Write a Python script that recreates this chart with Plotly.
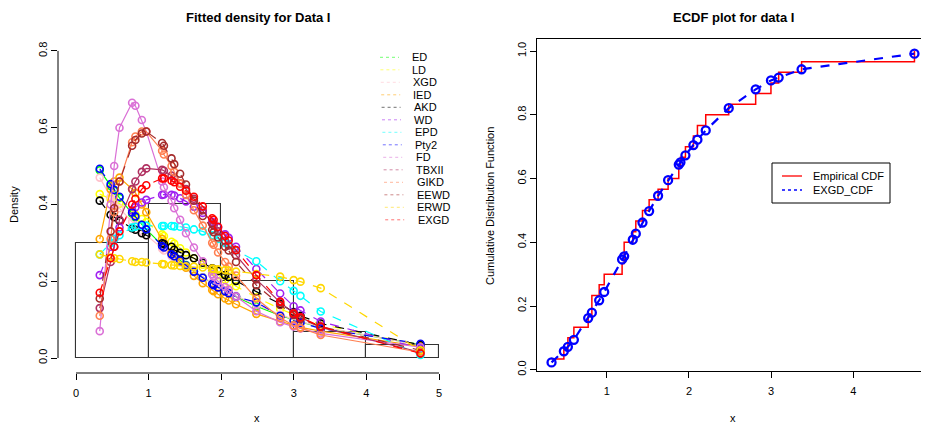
import numpy as np
import plotly.graph_objects as go

W, H = 929, 429
OFFX, OFFY = 8, 8  # the page body adds an 8px margin around the figure

# observations (Data I), ties included
data_x = [0.327, 0.477, 0.526, 0.599, 0.773, 0.818, 0.818, 0.907, 0.968,
          1.186, 1.211, 1.211, 1.316, 1.353, 1.434, 1.515, 1.624, 1.746,
          1.876, 1.896, 1.957, 2.054, 2.103, 2.204, 2.484, 2.812, 2.998,
          3.092, 3.371, 4.745]

# distinct sorted points where the fitted densities / cdf are evaluated
pts = [0.327, 0.477, 0.526, 0.599, 0.773, 0.818, 0.907, 0.968, 1.186, 1.211,
       1.316, 1.353, 1.434, 1.515, 1.624, 1.746, 1.876, 1.896, 1.957, 2.054,
       2.103, 2.204, 2.484, 2.812, 2.998, 3.092, 3.371, 4.745]

ED = [0.489, 0.448, 0.436, 0.417, 0.376, 0.366, 0.347, 0.335, 0.294, 0.290,
      0.272, 0.266, 0.254, 0.242, 0.226, 0.210, 0.195, 0.192, 0.185, 0.175,
      0.170, 0.160, 0.135, 0.111, 0.100, 0.094, 0.080, 0.035]
LD = [0.427, 0.415, 0.410, 0.402, 0.380, 0.374, 0.362, 0.354, 0.322, 0.318,
      0.303, 0.298, 0.286, 0.275, 0.260, 0.243, 0.226, 0.224, 0.216, 0.204,
      0.198, 0.187, 0.158, 0.128, 0.113, 0.106, 0.088, 0.033]
XGD = [0.470, 0.420, 0.410, 0.390, 0.355, 0.345, 0.330, 0.320, 0.285, 0.280,
       0.265, 0.260, 0.250, 0.240, 0.225, 0.210, 0.196, 0.193, 0.187, 0.177,
       0.172, 0.162, 0.138, 0.113, 0.100, 0.095, 0.081, 0.034]
IED = [0.310, 0.440, 0.460, 0.470, 0.440, 0.430, 0.400, 0.380, 0.310, 0.300,
       0.275, 0.265, 0.250, 0.235, 0.214, 0.195, 0.177, 0.174, 0.166, 0.155,
       0.150, 0.140, 0.115, 0.095, 0.085, 0.080, 0.070, 0.030]
AKD = [0.410, 0.373, 0.367, 0.358, 0.338, 0.334, 0.325, 0.320, 0.299, 0.297,
       0.290, 0.282, 0.274, 0.268, 0.260, 0.248, 0.234, 0.232, 0.227, 0.216,
       0.211, 0.201, 0.173, 0.141, 0.120, 0.110, 0.090, 0.034]
WD = [0.216, 0.290, 0.310, 0.340, 0.385, 0.393, 0.405, 0.412, 0.425, 0.426,
      0.425, 0.423, 0.416, 0.408, 0.394, 0.378, 0.355, 0.351, 0.340, 0.322,
      0.313, 0.290, 0.232, 0.168, 0.135, 0.124, 0.095, 0.025]
EPD = [0.270, 0.300, 0.310, 0.320, 0.340, 0.342, 0.344, 0.345, 0.344, 0.344,
       0.344, 0.343, 0.342, 0.340, 0.335, 0.330, 0.320, 0.318, 0.310, 0.300,
       0.295, 0.280, 0.252, 0.200, 0.175, 0.162, 0.121, 0.008]
Pty2 = [0.493, 0.453, 0.438, 0.420, 0.379, 0.369, 0.347, 0.335, 0.292, 0.288,
        0.270, 0.265, 0.254, 0.241, 0.225, 0.209, 0.193, 0.190, 0.184, 0.174,
        0.169, 0.160, 0.145, 0.110, 0.097, 0.092, 0.077, 0.037]
FD = [0.070, 0.400, 0.500, 0.600, 0.665, 0.657, 0.620, 0.590, 0.460, 0.445,
      0.410, 0.390, 0.360, 0.325, 0.288, 0.252, 0.218, 0.212, 0.200, 0.185,
      0.178, 0.160, 0.122, 0.093, 0.082, 0.077, 0.064, 0.028]
TBXII = [0.130, 0.250, 0.290, 0.360, 0.440, 0.460, 0.485, 0.494, 0.490, 0.488,
         0.475, 0.468, 0.455, 0.440, 0.415, 0.385, 0.350, 0.345, 0.330, 0.305,
         0.293, 0.268, 0.205, 0.145, 0.117, 0.106, 0.080, 0.015]
GIKD = [0.110, 0.310, 0.380, 0.460, 0.562, 0.577, 0.590, 0.590, 0.540, 0.530,
        0.500, 0.485, 0.455, 0.425, 0.385, 0.345, 0.300, 0.295, 0.275, 0.250,
        0.238, 0.215, 0.155, 0.105, 0.085, 0.078, 0.060, 0.015]
EEWD = [0.155, 0.330, 0.390, 0.460, 0.553, 0.568, 0.585, 0.590, 0.560, 0.553,
        0.520, 0.505, 0.480, 0.452, 0.410, 0.370, 0.334, 0.328, 0.314, 0.290,
        0.280, 0.250, 0.190, 0.138, 0.112, 0.102, 0.082, 0.020]
ERWD = [0.270, 0.262, 0.260, 0.258, 0.252, 0.250, 0.250, 0.249, 0.245, 0.244,
        0.242, 0.241, 0.240, 0.239, 0.238, 0.236, 0.233, 0.232, 0.231, 0.229,
        0.228, 0.225, 0.219, 0.212, 0.203, 0.199, 0.182, 0.020]
EXGD = [0.170, 0.260, 0.290, 0.330, 0.400, 0.415, 0.440, 0.450, 0.468, 0.468,
        0.462, 0.458, 0.446, 0.436, 0.420, 0.395, 0.364, 0.360, 0.342, 0.318,
        0.306, 0.281, 0.216, 0.147, 0.116, 0.106, 0.082, 0.012]

exgd_cdf = [0.023, 0.058, 0.072, 0.094, 0.162, 0.179, 0.218, 0.244, 0.346, 0.356,
            0.408, 0.427, 0.462, 0.498, 0.546, 0.595, 0.644, 0.651, 0.673, 0.705,
            0.722, 0.751, 0.821, 0.880, 0.908, 0.917, 0.943, 0.992]

names = ['ED', 'LD', 'XGD', 'IED', 'AKD', 'WD', 'EPD', 'Pty2', 'FD', 'TBXII',
         'GIKD', 'EEWD', 'ERWD', 'EXGD']
dens = [ED, LD, XGD, IED, AKD, WD, EPD, Pty2, FD, TBXII, GIKD, EEWD, ERWD, EXGD]
colors = ['#00FF00', '#FFFF00', '#FFC0CB', '#FFA500', '#000000', '#A020F0',
          '#00FFFF', '#0000FF', '#DA70D6', '#B03060', '#FF7F50', '#A52A2A',
          '#FFD700', '#FF0000']
dashes = ['solid', 'dash', 'solid', 'solid', 'dash', 'dash', 'dash', 'dash',
          'solid', 'solid', 'solid', 'dash', 'dash', 'dash']

FONT = 'Liberation Sans, Arial, Helvetica, sans-serif'

fig = go.Figure()

# histogram of the data (density scale)
fig.add_trace(go.Histogram(
    x = data_x, xbins = dict(start = 0, end = 5, size = 1),
    histnorm = 'probability density',
    marker = dict(color = 'rgba(0,0,0,0)', line = dict(color = '#333333', width = 1.1)),
    xaxis = 'x', yaxis = 'y', hoverinfo = 'skip'))

for name, ys, col, dash in zip(names, dens, colors, dashes):
    fig.add_trace(go.Scatter(
        x = pts, y = ys, name = name, mode = 'lines+markers',
        line = dict(color = col, width = 1.2, dash = dash),
        marker = dict(symbol = 'circle-open', size = 7, color = col, line = dict(width = 1.6, color = col)),
        xaxis = 'x', yaxis = 'y'))

# empirical cdf
xs = np.sort(np.array(data_x))
ux, cnt = np.unique(xs, return_counts = True)
ecdf = np.cumsum(cnt) / len(xs)
fig.add_trace(go.Scatter(
    x = ux, y = ecdf, mode = 'lines', name = 'Empirical CDF',
    line = dict(color = 'red', width = 1.5, shape = 'hv'),
    xaxis = 'x2', yaxis = 'y2'))
fig.add_trace(go.Scatter(
    x = pts, y = exgd_cdf, mode = 'lines+markers', name = 'EXGD_CDF',
    line = dict(color = 'blue', width = 2.2, dash = 'dash'),
    marker = dict(symbol = 'circle-open', size = 8, color = 'blue', line = dict(width = 2.3, color = 'blue')),
    xaxis = 'x2', yaxis = 'y2'))

def px(x): return (x - OFFX) / W
def py(y): return 1 - (y - OFFY) / H

shapes = [
    # left plot axis lines (only over the tick range, R style)
    dict(type = 'line', xref = 'x domain', x0 = 0, x1 = 0, yref = 'y', y0 = 0, y1 = 0.8,
         line = dict(color = 'black', width = 1)),
    dict(type = 'line', xref = 'x', x0 = 0, x1 = 5, yref = 'y domain', y0 = 0, y1 = 0,
         line = dict(color = 'black', width = 1)),
    # right legend box
    dict(type = 'rect', xref = 'paper', yref = 'paper', x0 = px(772), x1 = px(890),
         y0 = py(203), y1 = py(163), line = dict(color = 'black', width = 1), fillcolor = 'white'),
    dict(type = 'line', xref = 'paper', yref = 'paper', x0 = px(782), x1 = px(802),
         y0 = py(176), y1 = py(176), line = dict(color = 'red', width = 1.3)),
    dict(type = 'line', xref = 'paper', yref = 'paper', x0 = px(782), x1 = px(802),
         y0 = py(190), y1 = py(190), line = dict(color = 'blue', width = 1.3, dash = '3px,3px')),
]

annotations = [
    dict(text = '<b>Fitted density for Data I</b>', x = px(258), y = 1, yanchor = 'top', font = dict(size = 13)),
    dict(text = '<b>ECDF plot for data I</b>', x = px(733), y = 1, yanchor = 'top', font = dict(size = 13)),
    dict(text = 'x', x = px(257), y = py(418)),
    dict(text = 'x', x = px(733), y = py(418)),
    dict(text = 'Density', x = px(14), y = py(205), textangle = -90),
    dict(text = 'Cumulative Distribution Function', x = px(490), y = py(206), textangle = -90),
    dict(text = 'Empirical CDF', x = px(811), y = py(176), xanchor = 'left'),
    dict(text = 'EXGD_CDF', x = px(811), y = py(190), xanchor = 'left'),
]

# left legend, drawn by hand (R legend, no box, dotted samples)
for i, (name, col) in enumerate(zip(names, colors)):
    yy = 57.3 + i * 12.5
    sx = 380 + i * 0.4
    shapes.append(dict(type = 'line', xref = 'paper', yref = 'paper', x0 = px(sx), x1 = px(sx + 19),
                       y0 = py(yy), y1 = py(yy), opacity = 0.55,
                       line = dict(color = col, width = 1, dash = 'dot')))
    annotations.append(dict(text = name, x = px(410 + i * 0.45), y = py(yy), xanchor = 'left'))

for a in annotations:
    a.setdefault('xref', 'paper')
    a.setdefault('yref', 'paper')
    a.setdefault('showarrow', False)
    a.setdefault('xanchor', 'center')
    a.setdefault('yanchor', 'middle')

axis_common = dict(showgrid = False, zeroline = False, ticks = 'outside', ticklen = 6,
                   tickcolor = 'black', tickwidth = 1, tickfont = dict(size = 11, color = 'black'),
                   automargin = False)

fig.update_layout(
    width = W, height = H,
    margin = dict(l = 0, r = 0, t = 0, b = 0),
    paper_bgcolor = 'white', plot_bgcolor = 'white',
    font = dict(family = FONT, size = 11, color = 'black'),
    showlegend = False, bargap = 0,
    shapes = shapes, annotations = annotations,
    xaxis = dict(domain = [px(58), px(457)], range = [-0.248, 5.248], anchor = 'y',
                 tickvals = [0, 1, 2, 3, 4, 5], showline = False, ticklabelstandoff = 4, **axis_common),
    yaxis = dict(domain = [py(373), py(39)], range = [-0.039, 0.831], anchor = 'x',
                 tickvals = [0, 0.2, 0.4, 0.6, 0.8], ticktext = ['0.0', '0.2', '0.4', '0.6', '0.8'],
                 tickangle = -90, showline = False, **axis_common),
    xaxis2 = dict(domain = [px(537), px(929)], range = [0.15, 4.922], anchor = 'y2',
                  tickvals = [1, 2, 3, 4], showline = True, mirror = True, linecolor = 'black',
                  linewidth = 1, ticklabelstandoff = 4, **axis_common),
    yaxis2 = dict(domain = [py(371), py(39)], range = [-0.004, 1.038], anchor = 'x2',
                  tickvals = [0, 0.2, 0.4, 0.6, 0.8, 1.0], ticktext = ['0.0', '0.2', '0.4', '0.6', '0.8', '1.0'],
                  tickangle = -90, showline = True, mirror = True, linecolor = 'black', linewidth = 1,
                  **axis_common),
)

fig.write_html('out.html')
